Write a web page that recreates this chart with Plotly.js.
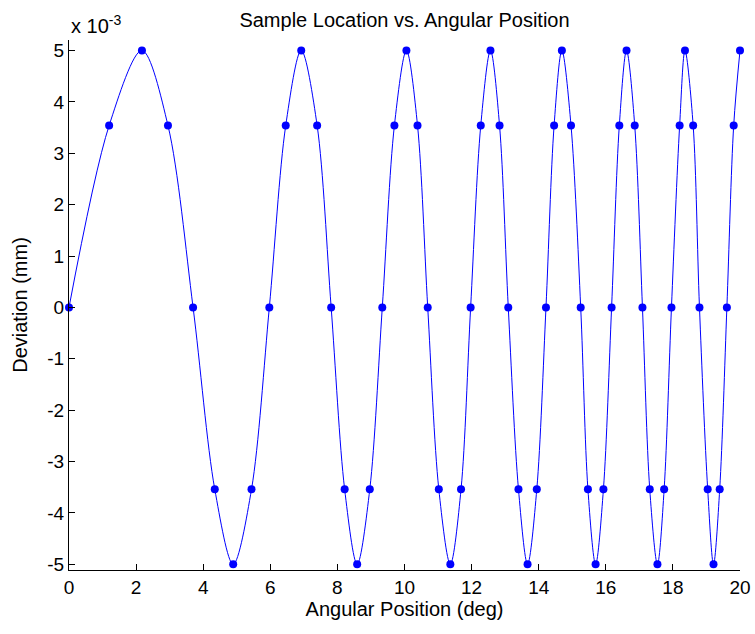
<!DOCTYPE html>
<html>
<head>
<meta charset="utf-8">
<script src="https://cdn.plot.ly/plotly-3.0.1.min.js"></script>
<style>
  html, body { margin: 0; padding: 0; background: #fff; }
  #chart { width: 755px; height: 634px; }
</style>
</head>
<body>
<div id="chart"></div>
<script>
// Sample angular positions (deg)
const angularPosition = [
  0, 1.196, 2.174, 2.950, 3.698, 4.345, 4.894, 5.440,
  5.971, 6.460, 6.922, 7.396, 7.814, 8.216, 8.589, 8.965,
  9.338, 9.699, 10.057, 10.388, 10.692, 11.023, 11.366, 11.685,
  11.971, 12.273, 12.562, 12.833, 13.093, 13.397, 13.668, 13.943,
  14.217, 14.459, 14.691, 14.963, 15.252, 15.467, 15.696, 15.929,
  16.173, 16.403, 16.618, 16.862, 17.092, 17.310, 17.539, 17.739,
  17.957, 18.201, 18.360, 18.604, 18.792, 19.037, 19.210, 19.395,
  19.609, 19.812, 20.0
];
// Deviation at each sample (units of 1e-3 mm)
const deviation = [
  0, 3.54, 5, 3.54, 0, -3.54, -5, -3.54,
  0, 3.54, 5, 3.54, 0, -3.54, -5, -3.54,
  0, 3.54, 5, 3.54, 0, -3.54, -5, -3.54,
  0, 3.54, 5, 3.54, 0, -3.54, -5, -3.54,
  0, 3.54, 5, 3.54, 0, -3.54, -5, -3.54,
  0, 3.54, 5, 3.54, 0, -3.54, -5, -3.54,
  0, 3.54, 5, 3.54, 0, -3.54, -5, -3.54,
  0, 3.54, 5
];
const xTicks = [0, 2, 4, 6, 8, 10, 12, 14, 16, 18, 20];
const yTicks = [-5, -4, -3, -2, -1, 0, 1, 2, 3, 4, 5];

const FONT = 'Liberation Sans, Arial, Helvetica, sans-serif';
const TICK_FS = 19;
const LABEL_FS = 20;

const traces = [
  {
    x: angularPosition, y: deviation,
    type: 'scatter', mode: 'lines',
    line: { color: '#0000ff', width: 1, shape: 'spline', smoothing: 0.9 },
    hoverinfo: 'skip', showlegend: false
  },
  {
    x: angularPosition, y: deviation,
    type: 'scatter', mode: 'markers',
    marker: { color: '#0000ff', size: 8 },
    cliponaxis: false, showlegend: false
  }
];

const layout = {
  width: 755, height: 634,
  paper_bgcolor: '#ffffff', plot_bgcolor: '#ffffff',
  margin: { l: 69, r: 15, t: 40, b: 64, pad: 0 },
  font: { family: FONT, size: TICK_FS, color: '#000000' },
  showlegend: false,
  title: {
    text: 'Sample Location vs. Angular Position',
    font: { family: FONT, size: LABEL_FS, color: '#000' },
    x: 0.5, xref: 'paper', xanchor: 'center',
    y: 616, yref: 'container', yanchor: 'middle'
  },
  xaxis: {
    range: [0, 20],
    tickvals: xTicks, ticktext: xTicks.map(String),
    ticks: 'inside', ticklen: 6, tickcolor: '#000', tickwidth: 1,
    showline: true, linecolor: '#000', linewidth: 1, mirror: false,
    showgrid: false, zeroline: false,
    tickfont: { family: FONT, size: TICK_FS, color: '#000' },
    title: { text: 'Angular Position (deg)', font: { family: FONT, size: LABEL_FS, color: '#000' }, standoff: 2 }
  },
  yaxis: {
    range: [-5.111, 5.204],
    tickvals: yTicks, ticktext: yTicks.map(String),
    ticks: 'inside', ticklen: 6, tickcolor: '#000', tickwidth: 1,
    showline: true, linecolor: '#000', linewidth: 1, mirror: false,
    showgrid: false, zeroline: false,
    tickfont: { family: FONT, size: TICK_FS, color: '#000' },
    title: { text: 'Deviation (mm)', font: { family: FONT, size: LABEL_FS, color: '#000' }, standoff: 14 }
  },
  annotations: [
    {
      text: 'x 10<sup>-3</sup>',
      xref: 'paper', yref: 'paper', x: 0, y: 1,
      xanchor: 'left', yanchor: 'bottom', yshift: 1,
      showarrow: false,
      font: { family: FONT, size: LABEL_FS, color: '#000' }
    }
  ]
};

Plotly.newPlot('chart', traces, layout, { displayModeBar: false, staticPlot: true });
</script>
</body>
</html>
